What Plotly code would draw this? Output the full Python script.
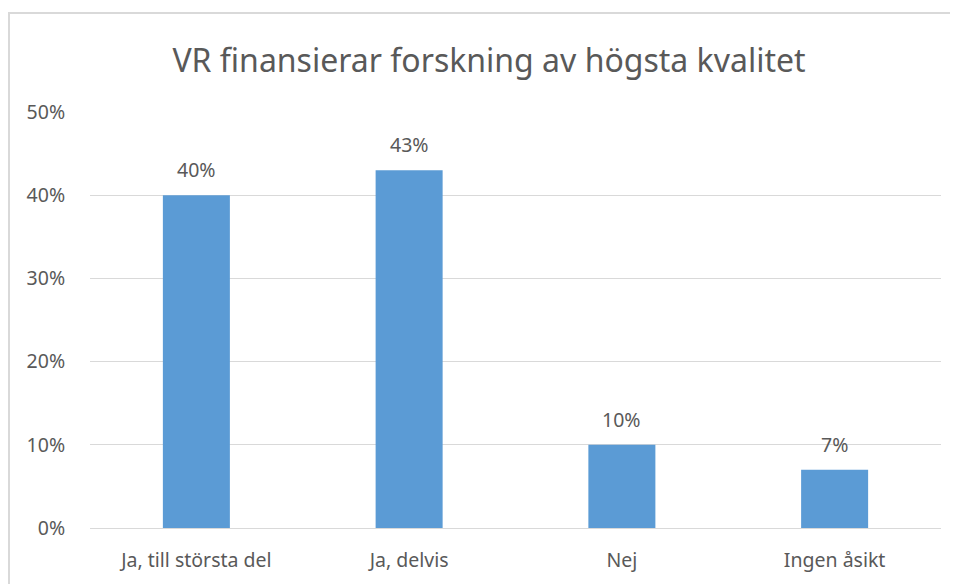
import plotly.graph_objects as go

categories = ["Ja, till största del", "Ja, delvis", "Nej", "Ingen åsikt"]
values = [0.40, 0.43, 0.10, 0.07]
labels = ["40%", "43%", "10%", "7%"]
title = "VR finansierar forskning av högsta kvalitet"

FONT = "Noto Sans"
GREY = "#595959"

fig = go.Figure(go.Bar(
    x=categories, y=values,
    marker=dict(color="#5B9BD5", line=dict(width=0)),
    cliponaxis=False, hoverinfo="skip",
))

# page body has an 8px offset; work in figure coordinates
OFF = 8
W, H = 958 - OFF, 584 - OFF
L, R, T, B = 90 - OFF, 17, 112 - OFF, 56
pw, ph = W - L - R, H - T - B

for c, v, t in zip(categories, values, labels):
    fig.add_annotation(x=c, y=v, text=t, showarrow=False, yanchor="bottom",
                       yshift=10, font=dict(family=FONT, size=19.5, color=GREY))

fig.update_layout(
    width=W, height=H,
    margin=dict(l=L, r=R, t=T, b=B),
    paper_bgcolor="white", plot_bgcolor="white",
    bargap=0.685,
    showlegend=False,
    title=dict(text=title, x=(489 - OFF) / W, xanchor="center", y=1 - (61 - OFF) / H, yanchor="middle",
               font=dict(family=FONT, size=32, color=GREY)),
    xaxis=dict(showgrid=False, showline=True, linecolor="#D9D9D9", linewidth=1,
               tickfont=dict(family=FONT, size=19.5, color=GREY),
               ticks="outside", ticklen=15, tickcolor="rgba(0,0,0,0)"),
    yaxis=dict(range=[0, 0.5], dtick=0.1, tickformat=".0%",
               showgrid=True, gridcolor="#D9D9D9", gridwidth=1,
               zeroline=False, showline=False,
               tickfont=dict(family=FONT, size=19.5, color=GREY),
               ticks="outside", ticklen=20, tickcolor="rgba(0,0,0,0)"),
    shapes=[dict(type="rect", xref="paper", yref="paper",
                 x0=(9 - OFF - L) / pw, x1=(W + 20 - L) / pw,
                 y0=-(B + 20) / ph, y1=(H - B - (13 - OFF)) / ph,
                 line=dict(color="#D9D9D9", width=2), layer="above")],
)

fig.write_html("out.html")
